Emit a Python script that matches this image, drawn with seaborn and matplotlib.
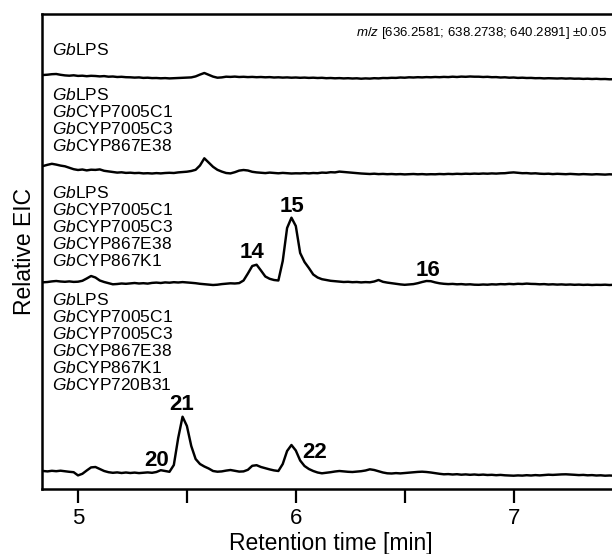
import numpy as np
import pandas as pd
import matplotlib
matplotlib.use("Agg")
import matplotlib.pyplot as plt
import seaborn as sns

# Retention time sampling grid [min]
rt = np.round(np.arange(132) * 0.02 + 4.84, 2)

# Extracted ion chromatograms (relative intensity above each trace's baseline)
eic_lps = [
    4.0, 4.3, 4.8, 5.0, 4.2, 3.6, 3.3, 3.7, 3.1, 3.3,
    2.8, 3.2, 3.0, 2.6, 2.9, 2.3, 2.5, 2.0, 2.2, 1.8,
    1.7, 1.4, 1.6, 1.1, 1.3, 0.9, 1.0, 0.7, 0.9, 0.6,
    0.8, 0.9, 1.1, 1.3, 1.6, 2.6, 4.4, 6.0, 4.2, 2.4,
    1.3, 1.6, 2.3, 2.1, 2.4, 2.0, 2.2, 1.9, 2.1, 1.8,
    2.0, 1.7, 1.9, 1.5, 1.7, 1.4, 1.6, 1.3, 1.5, 1.2,
    1.4, 1.1, 1.3, 1.0, 1.2, 0.8, 1.0, 0.7, 0.9, 0.6,
    0.8, 0.5, 0.7, 0.3, 0.6, 0.4, 0.8, 0.6, 1.0, 0.9,
    1.2, 1.1, 1.5, 1.3, 1.7, 1.5, 1.8, 1.6, 1.9, 1.7,
    2.0, 1.8, 2.1, 1.9, 2.3, 2.0, 2.4, 2.2, 2.5, 2.3,
    2.3, 2.0, 2.2, 1.8, 1.9, 1.5, 1.7, 1.3, 1.5, 1.1,
    1.3, 1.0, 1.1, 0.8, 0.9, 0.6, 0.8, 0.7, 0.5, 0.7,
    0.4, 0.6, 0.3, 0.4, 0.1, 0.3, 0.0, 0.2, -0.1, 0.0,
    -0.3, -0.2,
]

eic_lps_3cyp = [
    9.0, 10.2, 11.2, 10.4, 9.4, 8.7, 7.2, 5.8, 5.0, 5.5,
    4.6, 5.3, 5.1, 5.6, 4.2, 3.6, 3.0, 2.4, 2.7, 2.1,
    2.3, 1.9, 2.1, 1.6, 1.8, 1.5, 1.9, 1.6, 2.0, 2.2,
    2.0, 2.6, 2.9, 3.3, 4.0, 5.2, 9.5, 16.7, 12.5, 8.2,
    5.2, 3.4, 2.0, 1.6, 2.8, 4.4, 5.0, 4.5, 3.2, 2.6,
    2.2, 1.9, 2.4, 2.0, 1.7, 2.1, 1.8, 1.5, 1.7, 1.6,
    1.9, 1.6, 2.0, 1.8, 2.4, 2.2, 2.8, 2.6, 3.4, 3.0,
    2.5, 2.2, 1.8, 1.5, 1.2, 1.0, 1.3, 0.9, 1.1, 0.8,
    1.0, 0.7, 0.9, 0.6, 0.8, 1.0, 0.7, 0.9, 0.6, 0.8,
    0.7, 1.0, 0.8, 1.1, 0.9, 1.2, 1.0, 1.3, 1.1, 1.4,
    1.2, 1.5, 1.3, 1.6, 1.4, 1.7, 1.8, 2.3, 2.6, 2.2,
    1.8, 1.9, 1.5, 1.7, 1.3, 1.1, 1.3, 0.9, 1.2, 1.0,
    0.8, 1.1, 0.9, 0.6, 0.9, 0.7, 0.5, 0.8, 0.6, 0.4,
    0.7, 0.5,
]

eic_lps_4cyp = [
    2.7, 3.0, 3.6, 4.0, 3.5, 3.2, 3.6, 3.1, 3.3, 4.2,
    6.5, 9.0, 7.5, 4.5, 3.0, 1.8, 0.7, 1.0, 1.5, 1.2,
    1.6, 2.0, 1.5, 1.8, 1.4, 2.1, 2.4, 2.0, 2.6, 2.3,
    2.8, 2.5, 2.9, 2.6, 2.2, 1.8, 1.2, 0.8, 0.3, 0.0,
    0.3, 0.9, 1.3, 1.7, 1.5, 1.9, 4.5, 11.5, 19.0, 20.3,
    14.5, 8.5, 6.2, 5.0, 4.5, 24.0, 57.0, 67.3, 59.0, 32.0,
    23.0, 17.0, 10.5, 7.5, 5.8, 5.0, 4.2, 3.8, 3.4, 3.0,
    3.2, 2.8, 3.0, 2.6, 2.9, 2.7, 3.5, 5.0, 3.2, 2.4,
    1.8, 1.2, 0.6, 0.2, 0.5, 0.9, 1.8, 3.0, 4.0, 3.8,
    2.6, 1.7, 1.2, 0.9, 1.1, 0.7, 0.9, 0.5, 0.7, 0.3,
    0.2, 0.5, 0.3, 0.7, 0.5, 0.9, 0.7, 1.1, 0.8, 1.2,
    1.0, 1.4, 1.1, 1.0, 0.7, 0.9, 0.5, 0.7, 0.4, 0.6,
    0.3, 0.5, 0.2, 0.4, 0.1, 0.3, 0.0, 0.2, 0.1, 0.3,
    0.0, 0.2,
]

eic_lps_5cyp = [
    5.0, 4.6, 5.2, 4.8, 5.3, 4.7, 4.2, 3.8, 0.6, 2.2,
    5.5, 8.6, 9.0, 7.0, 5.0, 3.8, 3.2, 3.6, 3.0, 3.5,
    3.0, 3.4, 2.9, 3.3, 3.6, 3.2, 4.0, 5.8, 5.0, 4.2,
    11.0, 38.0, 59.3, 50.0, 30.0, 17.0, 12.0, 9.5, 7.5, 5.0,
    4.3, 4.6, 5.4, 6.0, 5.2, 4.4, 4.6, 6.2, 10.2, 10.8,
    9.0, 7.8, 6.6, 5.6, 5.0, 12.0, 25.0, 31.0, 25.5, 15.5,
    10.0, 7.0, 5.0, 3.5, 2.7, 3.2, 3.8, 4.5, 5.0, 4.6,
    4.2, 4.0, 4.4, 4.8, 5.5, 6.7, 6.0, 4.8, 3.5, 2.7,
    2.5, 2.9, 2.6, 3.0, 3.4, 3.8, 4.1, 4.3, 4.0, 3.5,
    2.8, 2.2, 1.7, 1.9, 1.5, 1.8, 1.3, 1.6, 1.2, 1.5,
    1.1, 1.4, 1.0, 1.2, 0.8, 1.1, 0.7, 0.5, 0.3, 0.6,
    0.4, 0.8, 0.5, 0.9, 0.6, 1.0, 1.3, 1.1, 1.4, 1.6,
    1.7, 1.5, 1.2, 0.9, 1.1, 0.7, 0.9, 0.5, 0.7, 0.3,
    0.5, 0.3,
]

# Enzymes co-expressed in each sample (prefix "Gb" is set in italics)
sample_genes = [
    ["LPS"],
    ["LPS", "CYP7005C1", "CYP7005C3", "CYP867E38"],
    ["LPS", "CYP7005C1", "CYP7005C3", "CYP867E38", "CYP867K1"],
    ["LPS", "CYP7005C1", "CYP7005C3", "CYP867E38", "CYP867K1", "CYP720B31"],
]

# Annotated compound numbers
peak_ids = ["14", "15", "16", "20", "21", "22"]

mz_label = r"$\mathit{m/z}$ [636.2581; 638.2738; 640.2891] ±0.05"
xtick_values = [5, 5.5, 6, 6.5, 7]
xtick_labels = ["5", "", "6", "", "7"]

# ---- layout ----
trace_offsets = [410, 314, 204, 13]
gene_first_line_y = [439, 394, 295.5, 189]
gene_line_step = 16.9
peak_label_xy = [(5.799, 236), (5.983, 282), (6.608, 218),
                 (5.361, 29), (5.476, 85), (6.088, 37)]

sns.set_theme(style="ticks")
plt.rcParams["font.family"] = ["Liberation Sans", "DejaVu Sans"]
plt.rcParams["mathtext.fontset"] = "custom"
plt.rcParams["mathtext.rm"] = "Liberation Sans"
plt.rcParams["mathtext.it"] = "Liberation Sans:italic"
plt.rcParams["mathtext.bf"] = "Liberation Sans:bold"
plt.rcParams["text.color"] = "black"
plt.rcParams["axes.labelcolor"] = "black"
plt.rcParams["xtick.color"] = "black"
plt.rcParams["xtick.labelcolor"] = "black"

fig = plt.figure(figsize=(6.12, 5.54), dpi=100)
ax = fig.add_axes([42 / 612, 65 / 554, 578 / 612, 475 / 554])

traces = [eic_lps, eic_lps_3cyp, eic_lps_4cyp, eic_lps_5cyp]
frames = []
for k, (vals, off) in enumerate(zip(traces, trace_offsets)):
    frames.append(pd.DataFrame({"rt": rt,
                                "signal": np.asarray(vals) + off,
                                "sample": k}))
df = pd.concat(frames, ignore_index=True)

for k in range(len(traces)):
    sns.lineplot(data=df[df["sample"] == k], x="rt", y="signal",
                 color="black", linewidth=1.75, estimator=None, sort=False,
                 ax=ax)

ax.set_xlim(4.8347, 7.4885)
ax.set_ylim(0, 475)
ax.set_yticks([])
ax.set_xticks(xtick_values)
ax.set_xticklabels(xtick_labels)
ax.tick_params(axis="x", direction="out", length=10, width=1.6,
               labelsize=16, pad=4, color="black", labelcolor="black")
for side in ["left", "bottom", "top", "right"]:
    ax.spines[side].set_linewidth(1.8)
    ax.spines[side].set_color("black")

ax.set_xlabel("Retention time [min]", fontsize=16.5, labelpad=2,
              color="black")
ax.set_ylabel("Relative EIC", fontsize=16.5, labelpad=4, color="black")

# Sample descriptions
for genes, y0 in zip(sample_genes, gene_first_line_y):
    for i, g in enumerate(genes):
        ax.text(4.881, y0 - i * gene_line_step, r"$\mathit{Gb}$" + g,
                fontsize=12.5, ha="left", va="center", color="black")

# Compound labels
for pid, (px, py) in zip(peak_ids, peak_label_xy):
    ax.text(px, py, pid, fontsize=16, fontweight="bold",
            ha="center", va="center", color="black")

ax.text(0.978, 0.96, mz_label, transform=ax.transAxes,
        fontsize=9.5, ha="right", va="center", color="black")

fig.savefig("out.png", dpi=100)
